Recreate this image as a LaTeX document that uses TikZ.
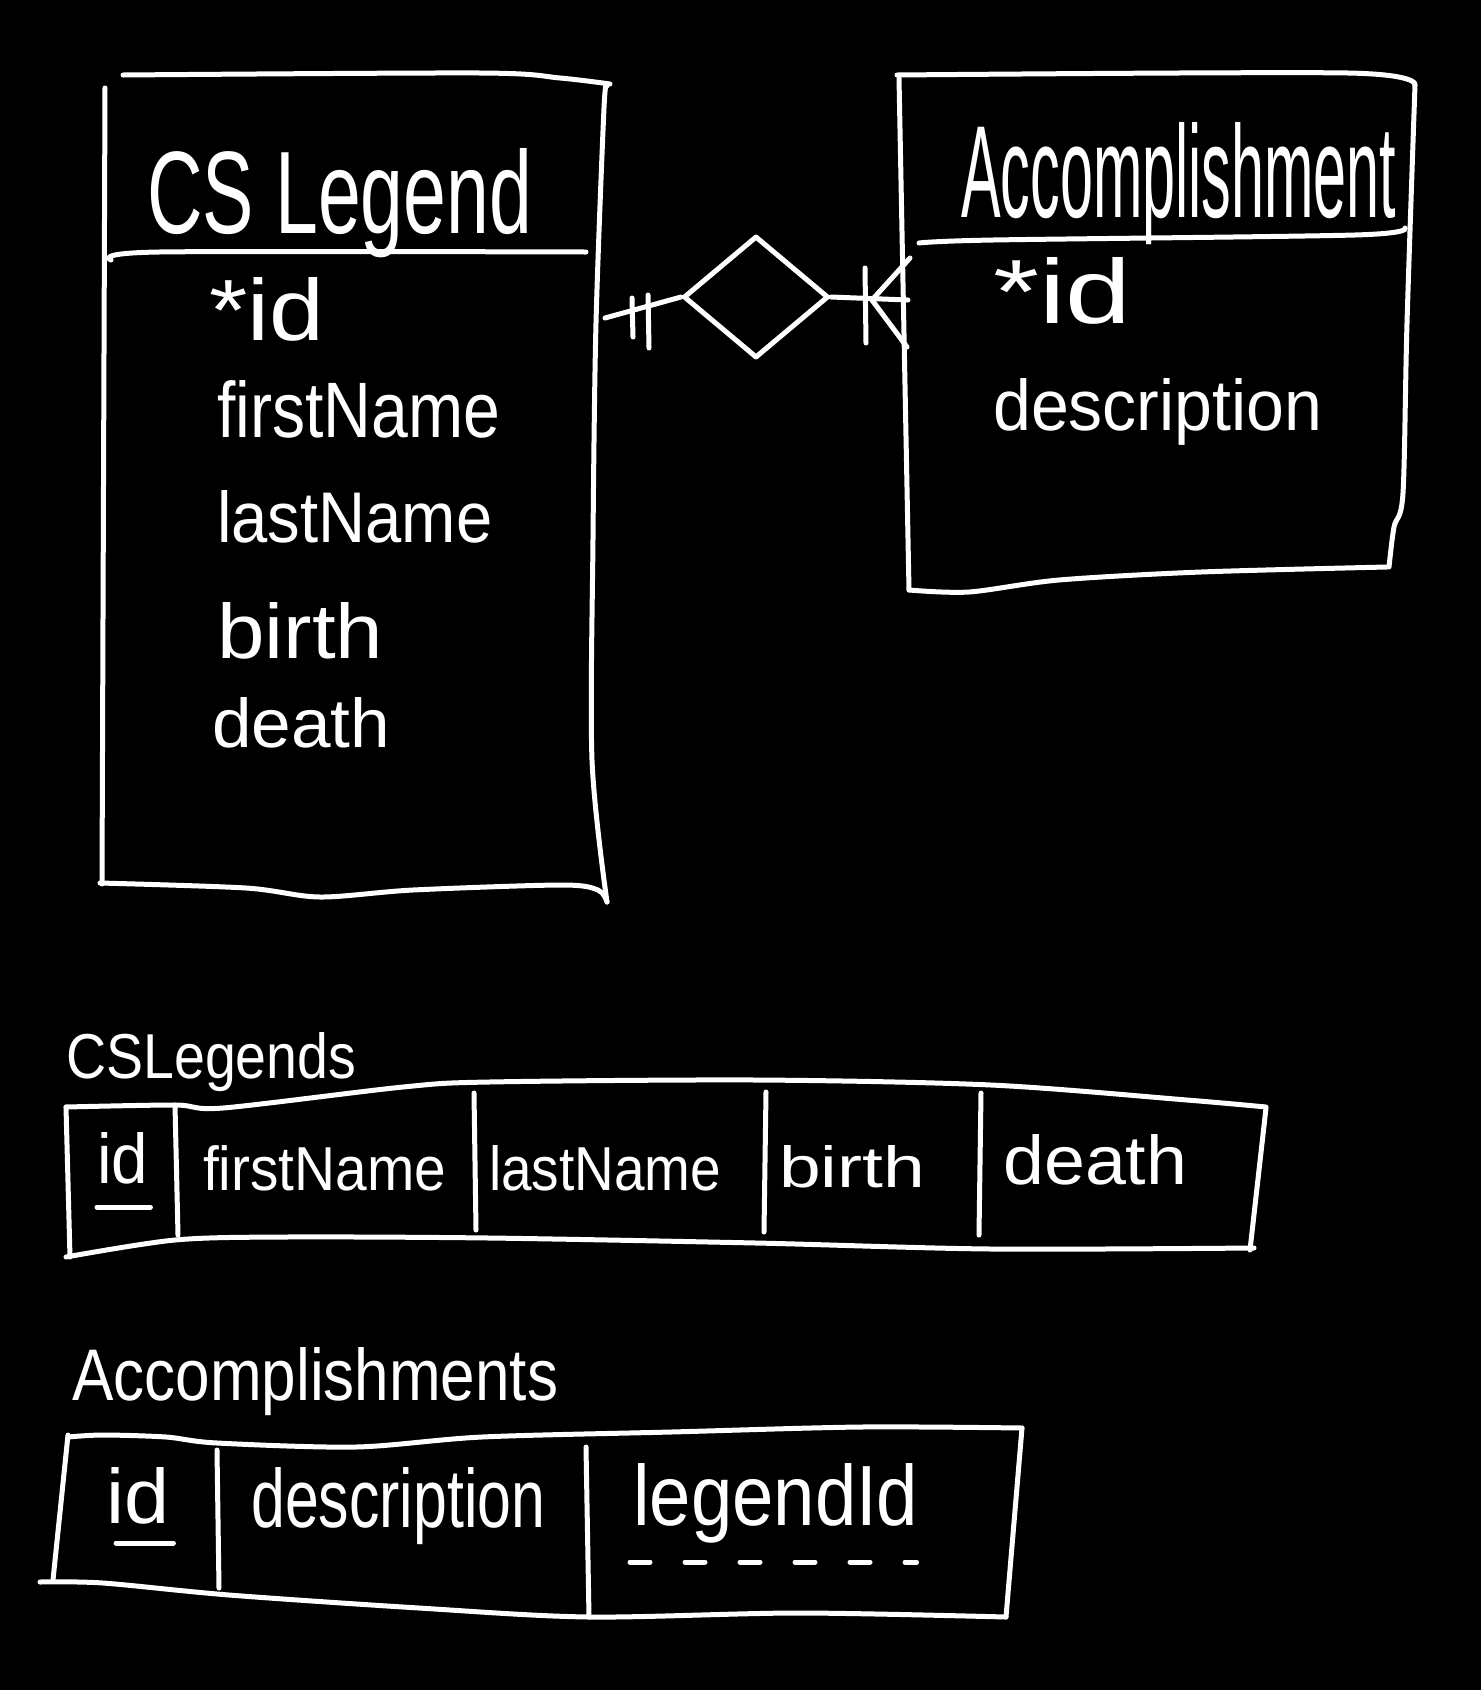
\documentclass[tikz,border=0pt]{standalone}
\usepackage{fontspec}
\setmainfont{Liberation Sans}
\usetikzlibrary{shapes.geometric,calc}
\newcommand\hw[3]{\resizebox{#1pt}{#2pt}{#3}}
\tikzset{
  ink/.style={draw=white, line width=5pt, line cap=round, line join=round},
  lbl/.style={text=white, inner sep=0pt, anchor=base west},
  reldia/.style={diamond, draw=white, line width=5pt, line join=round, inner sep=0pt, minimum width=145pt, minimum height=122pt}
}
\begin{document}
\begin{tikzpicture}[x=1pt,y=-1pt]
\useasboundingbox (0,0) rectangle (1481,1690);
\fill[black] (0,0) rectangle (1481,1690);

% ---------- Entity CS Legend ----------
\draw[ink] plot[smooth] coordinates {(123,75) (480,73) (560,78) (610,84)};
\draw[ink] (105,88) -- (102,884);
\draw[ink] plot[smooth] coordinates {(100,883) (246,888) (320,897) (413,890) (561,885) (598,890) (607,902)};
\draw[ink] plot[smooth] coordinates {(607,86) (604,108) (596,323) (593,539) (592,760) (607,902)};
\draw[ink] plot[smooth] coordinates {(111,260) (159,252) (586,252)};
\node[lbl] (t1) at (147,233) {\hw{385}{85}{CS Legend}};
\node[lbl] (a1) at (209,340) {\hw{115}{63}{*id}};
\node[lbl] (a2) at (217,437) {\hw{283}{57}{firstName}};
\node[lbl] (a3) at (217,542) {\hw{275}{52}{lastName}};
\node[lbl] (a4) at (217,658) {\hw{166}{56}{birth}};
\node[lbl] (a5) at (212,747) {\hw{178}{50}{death}};

% ---------- Entity Accomplishment ----------
\draw[ink] plot[smooth] coordinates {(897,75) (1348,73) (1415,85)};
\draw[ink] (899,78) -- (909,590);
\draw[ink] plot[smooth] coordinates {(909,590) (969,592) (1059,580) (1201,572) (1387,567)};
\draw[ink] plot[smooth] coordinates {(1415,85) (1407,323) (1403,493) (1394,527) (1389,567)};
\draw[ink] plot[smooth] coordinates {(919,243) (993,240) (1355,235) (1405,228)};
\node[lbl] (t2) at (961,217) {\hw{435}{95}{Accomplishment}};
\node[lbl] (b1) at (993,323) {\hw{138}{66}{*id}};
\node[lbl] (b2) at (993,430) {\hw{329}{52}{description}};

% ---------- Relationship ----------
\coordinate (e1r) at (605,318);
\coordinate (e2l) at (908,300);
\node[reldia] (rel) at (756,297) {};
\draw[ink] (e1r) -- (rel.west);
\draw[ink] (632,298) -- (633,337);
\draw[ink] (648,295) -- (649,348);
\draw[ink] (rel.east) -- (e2l);
\draw[ink] (865,268) -- (866,343);
\draw[ink] (872,300) -- (910,258);
\draw[ink] (872,300) -- (907,347);

% ---------- Table CSLegends ----------
\node[lbl] (l1) at (66,1078) {\hw{290}{46}{CSLegends}};
\draw[ink] plot[smooth] coordinates {(66,1107) (175,1105) (223,1108) (403,1087) (489,1082) (756,1080) (991,1085) (1187,1100) (1266,1107)};
\draw[ink] (1266,1108) -- (1250,1250);
\draw[ink] plot[smooth] coordinates {(1254,1248) (991,1249) (756,1243) (489,1238) (285,1237) (175,1240) (66,1257)};
\draw[ink] (66,1107) -- (70,1257);
\draw[ink] (175,1105) -- (178,1235);
\draw[ink] (474,1093) -- (476,1230);
\draw[ink] (766,1092) -- (764,1232);
\draw[ink] (981,1093) -- (979,1235);
\node[lbl] (c1) at (97,1183) {\hw{51}{51}{id}};
\node[lbl] (c2) at (203,1190) {\hw{243}{45}{firstName}};
\node[lbl] (c3) at (489,1190) {\hw{232}{45}{lastName}};
\node[lbl] (c4) at (779,1187) {\hw{146}{42}{birth}};
\node[lbl] (c5) at (1003,1184) {\hw{184}{50}{death}};
\draw[ink] ($(c1.base west)+(0,24)$) -- ($(c1.base east)+(2,24)$);

% ---------- Table Accomplishments ----------
\node[lbl] (l2) at (72,1400) {\hw{486}{53}{Accomplishments}};
\draw[ink] plot[smooth] coordinates {(68,1437) (103,1435) (166,1437) (217,1443) (356,1447) (482,1437) (671,1432) (861,1427) (1022,1428)};
\draw[ink] (1022,1428) -- (1006,1617);
\draw[ink] plot[smooth] coordinates {(1006,1617) (798,1613) (589,1617) (419,1608) (229,1595) (103,1583) (40,1582)};
\draw[ink] (68,1435) -- (53,1580);
\draw[ink] (217,1450) -- (219,1588);
\draw[ink] (586,1447) -- (589,1617);
\node[lbl] (d1) at (106,1523) {\hw{63}{56}{id}};
\node[lbl] (d2) at (251,1527) {\hw{294}{60}{description}};
\node[lbl] (d3) at (633,1525) {\hw{285}{62}{legendId}};
\draw[ink] ($(d1.base west)+(10,20)$) -- ($(d1.base east)+(4,20)$);
\draw[ink, dash pattern=on 20pt off 35pt] ($(d3.base west)+(-3,37)$) -- ($(d3.base east)+(-2,37)$);
\end{tikzpicture}
\end{document}
